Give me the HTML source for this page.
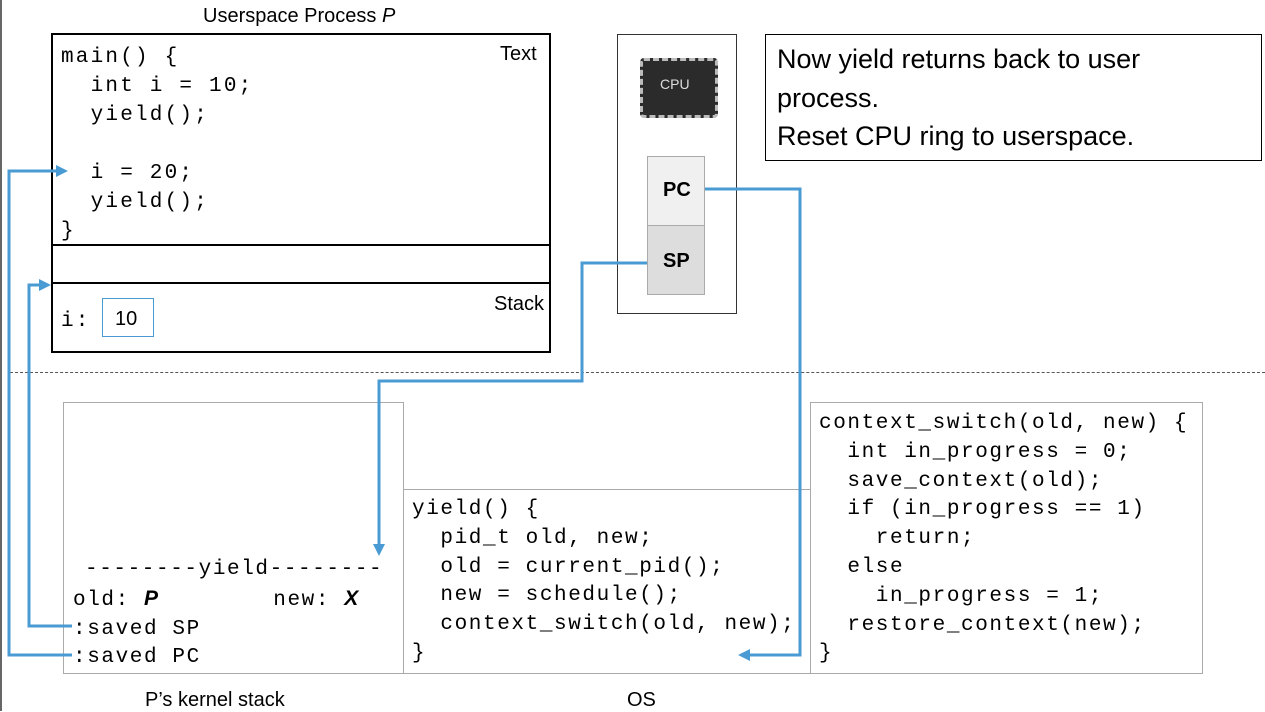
<!DOCTYPE html>
<html><head><meta charset="utf-8"><style>
*{margin:0;padding:0;box-sizing:border-box}
body{width:1265px;height:711px;background:#fff;position:relative;overflow:hidden;font-family:"Liberation Sans",sans-serif;color:#000}
.a{position:absolute}
pre{position:absolute;font-family:"Liberation Mono",monospace;font-size:21px;line-height:29px;white-space:pre}
.top{letter-spacing:2.2px}
.bot{letter-spacing:1.6px;line-height:28.8px}
.lbl{position:absolute;font-size:20px;white-space:nowrap}
</style></head><body>
<div class="a" style="left:0;top:0;width:2px;height:711px;background:#666"></div>
<div class="lbl" style="left:203px;top:5px">Userspace Process <i>P</i></div>
<div class="a" style="left:51px;top:33px;width:500px;height:320px;border:2px solid #000"></div>
<div class="a" style="left:51px;top:244px;width:500px;height:2px;background:#000"></div>
<div class="a" style="left:51px;top:282px;width:500px;height:2px;background:#000"></div>
<div class="lbl" style="left:500px;top:43px">Text</div>
<div class="lbl" style="left:494px;top:293px">Stack</div>
<pre class="top" style="left:61px;top:43px">main() {
  int i = 10;
  yield();

  i = 20;
  yield();
}</pre>
<pre class="top" style="left:61px;top:307px">i:</pre>
<div class="a" style="left:102px;top:298px;width:52px;height:39px;border:1px solid #4a9bd4"></div>
<div class="lbl" style="left:115px;top:308px">10</div>

<div class="a" style="left:617px;top:34px;width:120px;height:280px;border:1px solid #333"></div>
<div class="a" style="left:640px;top:58px;width:78px;height:60px;background:#2b2b2b;border:3px dashed #bbb;border-radius:4px"></div>
<div class="a" style="left:660px;top:76px;color:#ddd;font-size:14px">CPU</div>
<div class="a" style="left:647px;top:156px;width:58px;height:70px;background:#f0f0f0;border:1px solid #aaa"></div>
<div class="a" style="left:647px;top:225px;width:58px;height:70px;background:#ddd;border:1px solid #aaa"></div>
<div class="lbl" style="left:663px;top:179px;font-weight:bold;font-size:20px">PC</div>
<div class="lbl" style="left:663px;top:250px;font-weight:bold;font-size:20px">SP</div>

<div class="a" style="left:765px;top:34px;width:497px;height:127px;border:1px solid #000"></div>
<div class="a" style="left:777px;top:40px;font-size:27px;line-height:38.5px">Now yield returns back to user<br>process.<br>Reset CPU ring to userspace.</div>

<div class="a" style="left:10px;top:372px;width:1255px;border-top:1px dashed #555"></div>

<div class="a" style="left:63px;top:402px;width:341px;height:272px;border:1px solid #aaa"></div>
<div class="a" style="left:403px;top:489px;width:408px;height:185px;border:1px solid #aaa"></div>
<div class="a" style="left:810px;top:402px;width:393px;height:272px;border:1px solid #aaa"></div>
<pre class="bot" style="left:73px;top:556px"><span style="margin-left:12px">--------yield--------</span>
old: <i style="font-family:'Liberation Sans';font-weight:bold">P</i>        new: <i style="font-family:'Liberation Sans';font-weight:bold">X</i>
:saved SP
:saved PC</pre>
<pre class="bot" style="left:412px;top:496px">yield() {
  pid_t old, new;
  old = current_pid();
  new = schedule();
  context_switch(old, new);
}</pre>
<pre class="bot" style="left:819px;top:410px">context_switch(old, new) {
  int in_progress = 0;
  save_context(old);
  if (in_progress == 1)
    return;
  else
    in_progress = 1;
  restore_context(new);
}</pre>
<div class="lbl" style="left:145px;top:689px">P’s kernel stack</div>
<div class="lbl" style="left:627px;top:689px">OS</div>

<svg class="a" style="left:0;top:0" width="1265" height="711">
<g fill="none" stroke="#4a9bd4" stroke-width="3">
<polyline points="705,189 800,189 800,655 748,655"/>
<polyline points="647,263 582,263 582,381 379,381 379,545"/>
<polyline points="72,626 29,626 29,285 40,285"/>
<polyline points="72,655 9,655 9,171 58,171"/>
</g>
<g fill="#4a9bd4">
<polygon points="738,655 750,649 750,661"/>
<polygon points="379,556 373,544 385,544"/>
<polygon points="51,285 39,279 39,291"/>
<polygon points="68,171 56,165 56,177"/>
</g>
</svg>
</body></html>
